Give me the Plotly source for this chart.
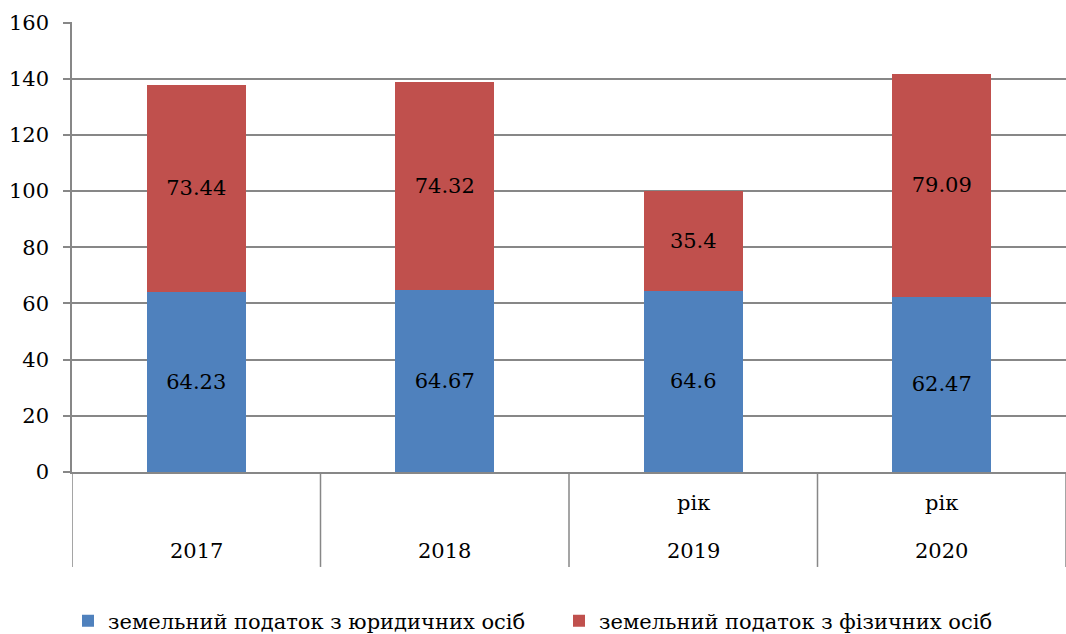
import plotly.graph_objects as go

years = ["2017", "2018", "2019", "2020"]
row_labels = ["", "", "рік", "рік"]
legal = [64.23, 64.67, 64.6, 62.47]
physical = [73.44, 74.32, 35.4, 79.09]
series_names = ["земельний податок з юридичних осіб", "земельний податок з фізичних осіб"]
y_ticks = [0, 20, 40, 60, 80, 100, 120, 140, 160]

FONT = "DejaVu Serif"
GRID = "#878787"
FS = 21

fig = go.Figure()
for vals, name, color, lg in [(legal, series_names[0], "#4F81BD", "legend"),
                              (physical, series_names[1], "#C0504D", "legend2")]:
    fig.add_trace(go.Bar(
        x=years, y=vals, name=name, marker=dict(color=color, line=dict(width=0)),
        text=[str(v) for v in vals], textposition="inside", insidetextanchor="middle",
        textangle=0, textfont=dict(family=FONT, size=FS, color="black"),
        constraintext="none", legend=lg,
    ))

shapes = []
for i in range(len(years) + 1):
    shapes.append(dict(type="line", xref="x", yref="paper", x0=i - 0.5, x1=i - 0.5,
                       y0=0, y1=-0.211, line=dict(color=GRID, width=1.5)))

annotations = []
for i, (yr, rl) in enumerate(zip(years, row_labels)):
    annotations.append(dict(x=i, y=-0.1756, xref="x", yref="paper", text=yr, showarrow=False,
                            font=dict(family=FONT, size=FS, color="black"), yanchor="middle"))
    if rl:
        annotations.append(dict(x=i, y=-0.0689, xref="x", yref="paper", text=rl, showarrow=False,
                                font=dict(family=FONT, size=FS, color="black"), yanchor="middle"))

legend_common = dict(orientation="h", yref="container", y=(634 - 621) / 634, yanchor="middle",
                     xanchor="left", font=dict(family=FONT, size=FS, color="black"),
                     itemwidth=30, bgcolor="rgba(0,0,0,0)")

fig.update_layout(
    barmode="stack", bargap=0.6,
    width=1066, height=634,
    margin=dict(l=72, r=0, t=22, b=162, autoexpand=False),
    paper_bgcolor="white", plot_bgcolor="white",
    font=dict(family=FONT, size=FS, color="black"),
    showlegend=True,
    legend=dict(x=(68 - 72) / 994, **legend_common),
    legend2=dict(x=(559 - 72) / 994, **legend_common),
    xaxis=dict(type="category", range=[-0.5, 3.5], showticklabels=False, showline=True,
               linecolor=GRID, linewidth=1.5, ticks="", showgrid=False, fixedrange=True,
               automargin=False),
    yaxis=dict(range=[0, 160.2], tickvals=y_ticks, showline=True, linecolor=GRID, linewidth=1.5,
               ticks="outside", ticklen=7, tickcolor=GRID, tickwidth=1.5,
               showgrid=True, gridcolor=GRID, gridwidth=1.5, zeroline=False,
               tickfont=dict(family=FONT, size=FS, color="black"), ticklabelstandoff=10,
               automargin=False),
    shapes=shapes, annotations=annotations,
)

fig.write_html("out.html", config={"displayModeBar": False},
               post_script="document.body.style.margin='0';document.body.style.padding='0';")
